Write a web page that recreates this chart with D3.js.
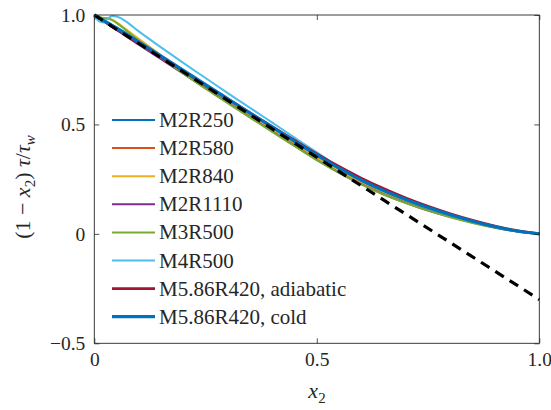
<!DOCTYPE html>
<html><head><meta charset="utf-8">
<script src="https://cdn.jsdelivr.net/npm/d3@7"></script>
<style>
body{margin:0;background:#fff;}
text{font-family:"Liberation Serif","Times New Roman",serif;fill:#262626;}
</style></head>
<body><svg id="c" width="551" height="410"></svg>
<script>
const xs = [0,0.01,0.02,0.03,0.04,0.05,0.07,0.1,0.15,0.2,0.25,0.3,0.35,0.4,0.45,0.5,0.55,0.6,0.65,0.7,0.75,0.8,0.85,0.9,0.95,1.0];
const M2R250   = [1,0.988,0.977,0.966,0.955,0.943,0.918,0.879,0.812,0.746,0.68,0.615,0.55,0.485,0.42,0.355,0.295,0.24,0.193,0.152,0.116,0.084,0.056,0.032,0.013,0];
const M2R580   = [1,0.987,0.975,0.963,0.951,0.939,0.913,0.874,0.807,0.741,0.675,0.61,0.545,0.48,0.415,0.35,0.29,0.236,0.189,0.149,0.113,0.082,0.055,0.031,0.012,0];
const M2R840   = [1,0.99,0.986,0.985,0.979,0.967,0.937,0.891,0.816,0.745,0.677,0.611,0.545,0.479,0.414,0.349,0.289,0.235,0.188,0.148,0.112,0.081,0.054,0.031,0.012,0];
const M2R1110  = [1,0.985,0.971,0.958,0.944,0.931,0.905,0.864,0.798,0.732,0.666,0.6,0.534,0.468,0.403,0.338,0.28,0.227,0.181,0.142,0.107,0.078,0.052,0.029,0.011,0];
const M3R500   = [1,0.991,0.986,0.984,0.977,0.964,0.932,0.882,0.806,0.733,0.663,0.597,0.531,0.466,0.401,0.337,0.279,0.226,0.18,0.141,0.106,0.076,0.05,0.028,0.011,0];
const M4R500   = [1,0.972,0.966,0.983,0.995,0.993,0.972,0.925,0.852,0.781,0.712,0.643,0.576,0.508,0.44,0.372,0.306,0.247,0.197,0.154,0.117,0.085,0.056,0.032,0.013,0];
const M586Adi  = [1,0.987,0.974,0.961,0.948,0.935,0.909,0.871,0.807,0.743,0.68,0.617,0.553,0.49,0.428,0.366,0.308,0.255,0.207,0.164,0.126,0.092,0.062,0.036,0.015,0];
const M586Cold = [1,0.988,0.976,0.964,0.952,0.94,0.915,0.877,0.812,0.747,0.682,0.617,0.552,0.488,0.423,0.36,0.3,0.245,0.198,0.157,0.12,0.087,0.058,0.033,0.013,0];
const dashX = [0, 1];
const dashY = [1, -0.3];
const seriesNames = ["M2R250","M2R580","M2R840","M2R1110","M3R500","M4R500","M5.86R420, adiabatic","M5.86R420, cold"];
const seriesData = [M2R250,M2R580,M2R840,M2R1110,M3R500,M4R500,M586Adi,M586Cold];
const seriesColors = ["#0072BD","#D95319","#EDB120","#7E2F8E","#77AC30","#4DBEEE","#A2142F","#0072BD"];
const seriesWidths = [2,2,2,2,2,2,2.6,3.2];
const xTicks = [0,0.5,1.0];
const xTickLabels = ["0","0.5","1.0"];
const yTicks = [-0.5,0,0.5,1.0];
const yTickLabels = ["\u22120.5","0","0.5","1.0"];

const FONT = '"Liberation Serif","Times New Roman",serif';
const L=94.3, R=539.3, T=15, B=343.3;
const svg = d3.select("#c");
const x = d3.scaleLinear().domain([0,1]).range([L,R]);
const y = d3.scaleLinear().domain([-0.5,1]).range([B,T]);

const line = d3.line().x(d=>x(d[0])).y(d=>y(d[1])).curve(d3.curveMonotoneX);
const g = svg.append("g");
seriesData.forEach((s,i)=>{
  g.append("path").datum(xs.map((v,j)=>[v,s[j]]))
   .attr("d",line).attr("fill","none")
   .attr("stroke",seriesColors[i]).attr("stroke-width",seriesWidths[i])
   .attr("stroke-linejoin","round");
});
g.append("path").datum(dashX.map((v,j)=>[v,dashY[j]]))
  .attr("d",d3.line().x(d=>x(d[0])).y(d=>y(d[1])))
  .attr("fill","none").attr("stroke","#000").attr("stroke-width",3.2)
  .attr("stroke-dasharray","10,7");

// axes
const fs = 19.5;
const ax = svg.append("g").attr("transform",`translate(0,${B})`)
  .call(d3.axisBottom(x).tickValues(xTicks).tickFormat((d,i)=>xTickLabels[i]).tickSizeInner(-5).tickSizeOuter(0).tickPadding(9));
const ay = svg.append("g").attr("transform",`translate(${L},0)`)
  .call(d3.axisLeft(y).tickValues(yTicks).tickFormat((d,i)=>yTickLabels[i]).tickSizeInner(-5).tickSizeOuter(0).tickPadding(9));
const at = svg.append("g").attr("transform",`translate(0,${T})`)
  .call(d3.axisTop(x).tickValues(xTicks).tickFormat("").tickSizeInner(-5).tickSizeOuter(0));
const ar = svg.append("g").attr("transform",`translate(${R},0)`)
  .call(d3.axisRight(y).tickValues(yTicks).tickFormat("").tickSizeInner(-5).tickSizeOuter(0));
[ax,ay,at,ar].forEach(a=>{
  a.attr("font-family",null).attr("font-size",null);
  a.select(".domain").remove();
  a.selectAll("line").attr("stroke","#262626").attr("stroke-width",0.8);
  a.selectAll("text").attr("font-size",fs).style("font-family",FONT).attr("fill","#262626");
});
svg.append("rect").attr("x",L).attr("y",T).attr("width",R-L).attr("height",B-T)
  .attr("fill","none").attr("stroke","#262626").attr("stroke-width",0.9);

// legend
const lg = svg.append("g");
seriesNames.forEach((n,i)=>{
  const yy = 120 + i*28.1;
  lg.append("line").attr("x1",112).attr("x2",155).attr("y1",yy).attr("y2",yy)
    .attr("stroke",seriesColors[i]).attr("stroke-width",seriesWidths[i]);
  lg.append("text").attr("x",159).attr("y",yy+7).attr("font-size",21).style("font-family",FONT).text(n);
});

// axis labels
const xl = svg.append("text").attr("x",317).attr("y",398).attr("text-anchor","middle").attr("font-size",22).style("font-family",FONT);
xl.append("tspan").attr("font-style","italic").text("x");
xl.append("tspan").attr("font-size",15).attr("dy",5).text("2");

const yl = svg.append("text").attr("transform","translate(30,187) rotate(-90)").attr("text-anchor","middle").attr("font-size",22).style("font-family",FONT);
yl.append("tspan").text("(1 \u2212 ");
yl.append("tspan").attr("font-style","italic").text("x");
yl.append("tspan").attr("font-size",15).attr("dy",5).text("2");
yl.append("tspan").attr("dy",-5).text(") ");
yl.append("tspan").attr("font-style","italic").text("\u03C4");
yl.append("tspan").text("/");
yl.append("tspan").attr("font-style","italic").text("\u03C4");
yl.append("tspan").attr("font-size",15).attr("font-style","italic").attr("dy",5).text("w");
</script></body></html>
